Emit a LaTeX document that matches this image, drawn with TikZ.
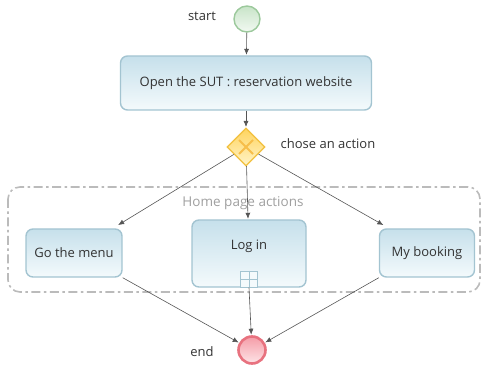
\documentclass[tikz,border=0pt]{standalone}
\usepackage{fontspec}
\setmainfont{Open Sans}
\usetikzlibrary{arrows.meta,shapes.geometric}
\definecolor{FlowGray}{HTML}{555555}
\definecolor{TextGray}{HTML}{333333}
\definecolor{GroupGray}{HTML}{BBBBBB}
\definecolor{TaskLine}{HTML}{A3C4D1}
\definecolor{TaskTop}{HTML}{C6E0EB}
\definecolor{TaskBot}{HTML}{F4FAFC}
\definecolor{StartLine}{HTML}{9CC99C}
\definecolor{StartTop}{HTML}{C8E4C8}
\definecolor{StartBot}{HTML}{F2F9F2}
\definecolor{GateLine}{HTML}{F2C03E}
\definecolor{GateTop}{HTML}{FFD45E}
\definecolor{GateBot}{HTML}{FFF4C8}
\definecolor{GateCross}{HTML}{F7BE4A}
\definecolor{EndLine}{HTML}{E8727F}
\definecolor{EndTop}{HTML}{F59CA7}
\definecolor{EndBot}{HTML}{FDE4E7}

\begin{document}
\begin{tikzpicture}[x=1pt,y=-1pt,>=Latex,
    every node/.style={font=\fontsize{13}{15}\selectfont, text=TextGray, align=center},
    task/.style={draw=TaskLine, line width=1.4pt, rounded corners=7pt, top color=TaskTop, bottom color=TaskBot},
    flow/.style={FlowGray, line width=0.6pt, shorten >=0.5pt, -{Latex[length=6pt,width=5pt]}}]
    \useasboundingbox (0,0) rectangle (482,366);
    % sub-process group
    \draw[GroupGray, line width=1.6pt, rounded corners=12pt, dash pattern=on 9pt off 3.5pt on 2.5pt off 3.5pt] (8,187) rectangle (480,292);
    \node[text=GroupGray!85!black, font=\fontsize{13.5}{15}\selectfont] (grouplabel) at (243,203) {Home page actions};
    % events
    \node[circle, draw=StartLine, line width=1.4pt, top color=StartTop, bottom color=StartBot, minimum size=26pt, inner sep=0pt] (start) at (247,19) {};
    \node (startlabel) at (202,16) {start};
    \node[circle, draw=EndLine, line width=2.6pt, top color=EndTop, bottom color=EndBot, minimum size=27pt, inner sep=0pt] (end) at (252,350) {};
    \node (endlabel) at (202,352) {end};
    % tasks
    \node[task, minimum width=251pt, minimum height=54pt] (open) at (246,83) {Open the SUT : reservation website};
    \node[task, minimum width=96pt, minimum height=48pt] (menu) at (74,253) {Go the menu};
    \node[task, minimum width=114pt, minimum height=67pt] (login) at (249,253.5) {};
    \node (logintext) at (249,246) {Log in};
    \node[draw=TaskLine, line width=1.2pt, fill=TaskBot, minimum width=17pt, minimum height=16pt, inner sep=0pt, anchor=south] (loginmark) at (login.south) {};
    \draw[TaskLine, line width=1pt] (loginmark.north) -- (loginmark.south) (loginmark.west) -- (loginmark.east);
    \node[task, minimum width=95pt, minimum height=48pt] (booking) at (427,253) {My booking};
    % gateway
    \node[diamond, draw=GateLine, line width=1.2pt, top color=GateTop, bottom color=GateBot, minimum width=38pt, minimum height=38pt, inner sep=0pt] (gate) at (246,147) {};
    \draw[GateCross, line width=1.8pt] ([shift={(-7,-7)}]gate.center) -- ([shift={(7,7)}]gate.center) ([shift={(-7,7)}]gate.center) -- ([shift={(7,-7)}]gate.center);
    \node (gatelabel) at (328,144) {chose an action};
    % sequence flows
    \draw[flow] (start) -- (open);
    \draw[flow] (open) -- (gate);
    \draw[flow] (gate) -- ([shift={(-5,-3)}]menu.north east);
    \draw[flow] (gate) -- (login);
    \draw[flow] (gate) -- ([shift={(5,-3)}]booking.north west);
    \draw[flow] (menu.south east) -- (end);
    \draw[flow] (loginmark.south) -- (end);
    \draw[flow] (booking.south west) -- (end);
\end{tikzpicture}
\end{document}
